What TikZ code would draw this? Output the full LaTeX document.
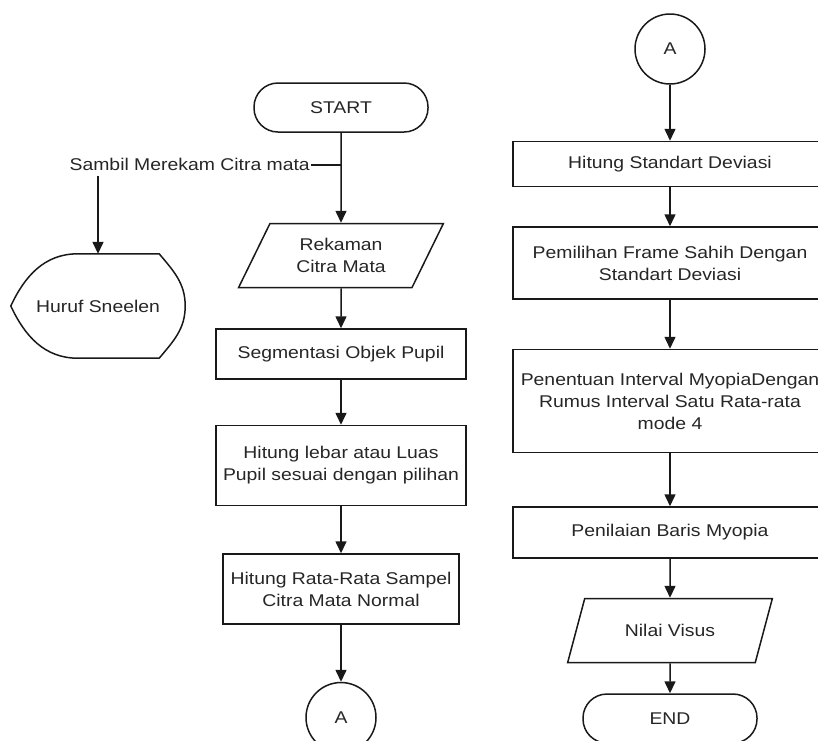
\documentclass[tikz,border=0pt]{standalone}
\usepackage{fontspec}
\setmainfont{Liberation Sans}[FakeStretch=1.14]
\usetikzlibrary{positioning}
\usetikzlibrary{arrows.meta}
\usetikzlibrary{calc, shapes}
\tikzset{%
	% Specifications for style of nodes:
	base/.style = {draw=black!90, line width=1.5pt, text=black!85,
		inner xsep=0pt, inner ysep=3pt,
		align=center},
	terminal/.style = {base, rectangle, rounded corners=24pt,
		minimum width=174pt, minimum height=49pt},
	process/.style = {base, rectangle},
	inout/.style = {base, trapezium, trapezium left angle=64,
		trapezium right angle=116, trapezium stretches=true,
		minimum width=205pt, minimum height=64pt},
	connector/.style = {base, circle, minimum size=70pt},
	line/.style = {draw=black!90, line width=1.5pt},
	arrow/.style = {line, -{Triangle[length=12pt, width=11pt]}},
}

\begin{document}
\begin{tikzpicture}[x=1pt, y=1pt, node distance=40pt,
	every node/.style={font=\fontsize{17pt}{22pt}\selectfont, text=black!85}]
\useasboundingbox (0,0) rectangle (818,-740);

\node (start) [terminal] at (341,-107.5) {START};
\node (rekaman) [inout, below=90pt of start] {Rekaman\\Citra Mata};
\node (segmen) [process, minimum width=250pt, minimum height=50pt, below=40pt of rekaman] {Segmentasi Objek Pupil};
\node (lebar) [process, minimum width=250pt, minimum height=80pt, below=45pt of segmen] {Hitung lebar atau Luas\\Pupil sesuai dengan pilihan};
\node (rata) [process, minimum width=236pt, minimum height=70pt, below=47pt of lebar] {Hitung Rata-Rata Sampel\\Citra Mata Normal};
\node (keA) [connector, below=57pt of rata] {A};

\coordinate (split) at ($(start.south)+(0,-32)$);
\node (sambil) [left=30pt of split, inner xsep=1pt, inner ysep=5pt] {Sambil Merekam Citra mata};
\node (huruf) [minimum width=174pt, minimum height=104pt, inner sep=0pt] at (98,-306) {Huruf Sneelen};
\draw [line] ($(huruf.north west)+(67,0)$) -- ($(huruf.north east)+(-26,0)$)
	to[out=-50, in=90] (huruf.east) to[out=-90, in=50] ($(huruf.south east)+(-26,0)$)
	-- ($(huruf.south west)+(67,0)$) to[out=180, in=-65] (huruf.west)
	to[out=65, in=180] cycle;

\node (dariA) [connector] at (670,-49) {A};
\node (stdev) [process, minimum width=314pt, minimum height=45pt, below=56pt of dariA] {Hitung Standart Deviasi};
\node (pilih) [process, minimum width=314pt, minimum height=72pt, below=39pt of stdev] {Pemilihan Frame Sahih Dengan\\Standart Deviasi};
\node (interval) [process, minimum width=314pt, minimum height=103pt, below=49pt of pilih] {Penentuan Interval MyopiaDengan\\Rumus Interval Satu Rata-rata\\mode 4};
\node (nilaiBaris) [process, minimum width=314pt, minimum height=51pt, below=53pt of interval] {Penilaian Baris Myopia};
\node (visus) [inout, below=39pt of nilaiBaris] {Nilai Visus};
\node (finish) [terminal, below=30pt of visus] {END};

\draw [arrow] (start) -- (rekaman);
\draw [line] (split) -- (sambil.east);
\path let
	\p1 = (huruf.north),
	\p2 = (sambil.south)
in
	coordinate (sambilAnchor) at (\x1, \y2);
\draw [arrow] (sambilAnchor) -- (huruf.north);
\draw [arrow] (rekaman) -- (segmen);
\draw [arrow] (segmen) -- (lebar);
\draw [arrow] (lebar) -- (rata);
\draw [arrow] (rata) -- (keA);

\draw [arrow] (dariA) -- (stdev);
\draw [arrow] (stdev) -- (pilih);
\draw [arrow] (pilih) -- (interval);
\draw [arrow] (interval) -- (nilaiBaris);
\draw [arrow] (nilaiBaris) -- (visus);
\draw [arrow] (visus) -- (finish);
\end{tikzpicture}
\end{document}
